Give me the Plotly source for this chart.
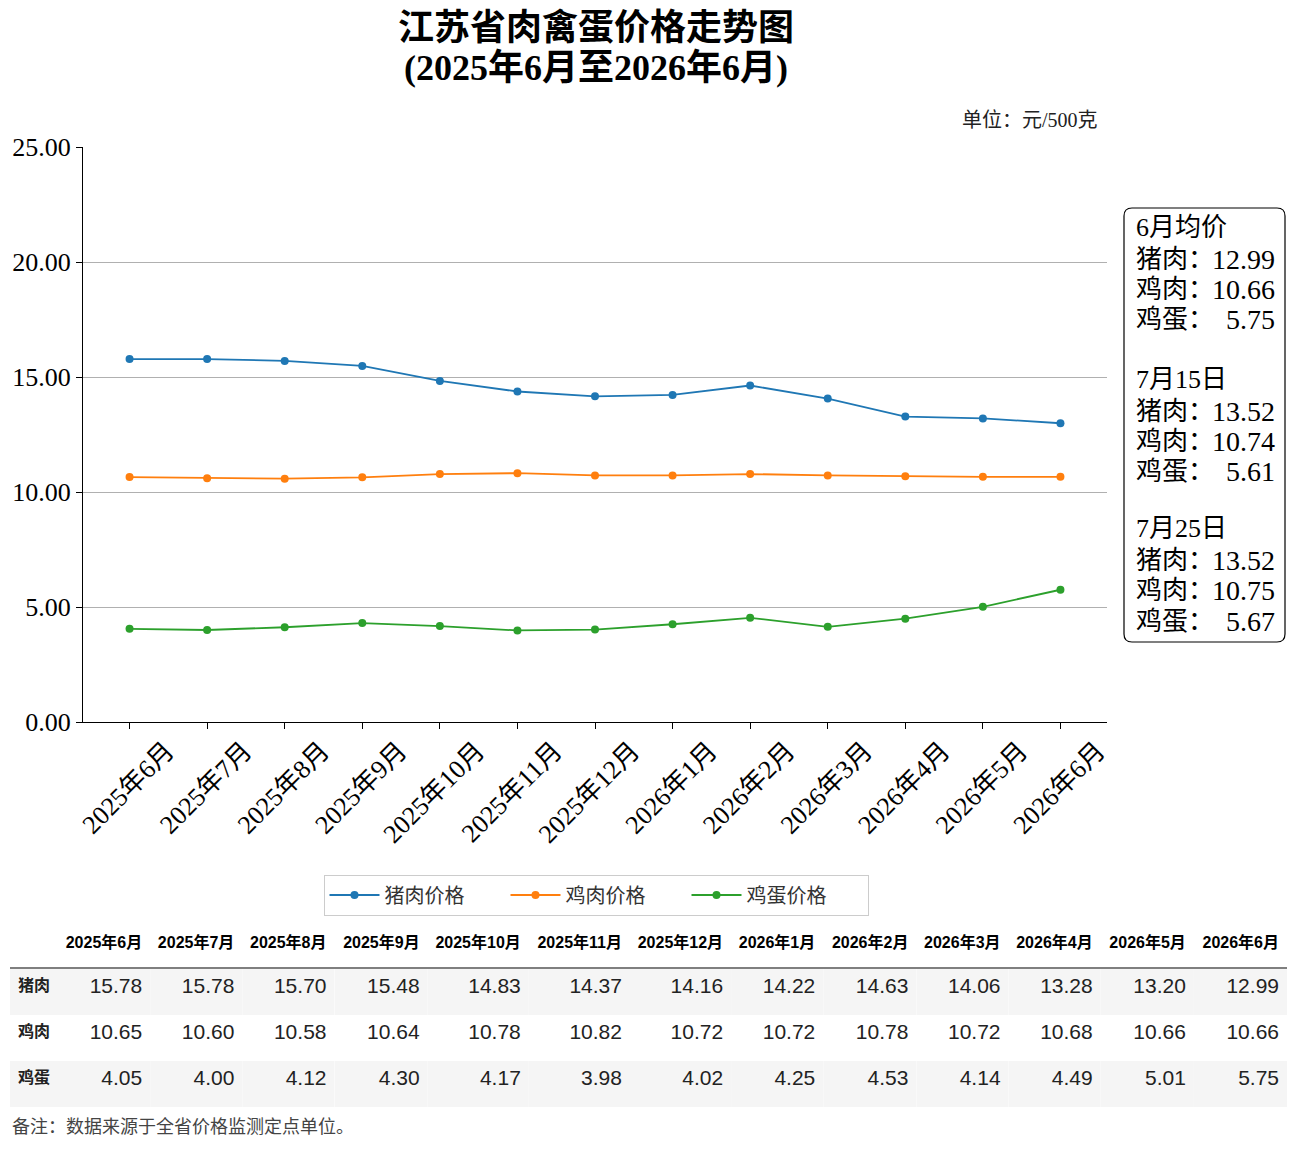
import plotly.graph_objects as go

# the page body adds an 8px margin, so the figure is shrunk and all
# reference pixel positions are shifted by that offset
OFF = 8
W, H = 1295 - OFF, 1155 - 2 * OFF

months = ["2025年6月", "2025年7月", "2025年8月", "2025年9月", "2025年10月", "2025年11月",
          "2025年12月", "2026年1月", "2026年2月", "2026年3月", "2026年4月", "2026年5月", "2026年6月"]
pork = [15.78, 15.78, 15.70, 15.48, 14.83, 14.37, 14.16, 14.22, 14.63, 14.06, 13.28, 13.20, 12.99]
chicken = [10.65, 10.60, 10.58, 10.64, 10.78, 10.82, 10.72, 10.72, 10.78, 10.72, 10.68, 10.66, 10.66]
egg = [4.05, 4.00, 4.12, 4.30, 4.17, 3.98, 4.02, 4.25, 4.53, 4.14, 4.49, 5.01, 5.75]

series_names = ["猪肉价格", "鸡肉价格", "鸡蛋价格"]
row_names = ["猪肉", "鸡肉", "鸡蛋"]
colors = ["#1f77b4", "#ff7f0e", "#2ca02c"]

# side box: recent prices
box_titles = ["6月均价", "7月15日", "7月25日"]
box_pork = [12.99, 13.52, 13.52]
box_chicken = [10.66, 10.74, 10.75]
box_egg = [5.75, 5.61, 5.67]

SERIF = "Liberation Serif, Times New Roman, Noto Sans CJK SC, serif"
SANS = "Liberation Sans, Arial, Noto Sans CJK SC, sans-serif"
CJK = "Noto Sans CJK SC, sans-serif"


def px_x(p):
    return (p - OFF) / W


def px_y(p):
    return 1 - (p - OFF) / H


fig = go.Figure()

for name, vals, c in zip(series_names, [pork, chicken, egg], colors):
    fig.add_trace(go.Scatter(
        x=months, y=vals, name=name, mode="lines+markers",
        line=dict(color=c, width=1.8), marker=dict(color=c, size=8),
        xaxis="x", yaxis="y",
    ))

# data table under the chart
cols = [[f"<b>{r}</b>" for r in row_names]]
for i in range(len(months)):
    cols.append([f"{pork[i]:.2f}", f"{chicken[i]:.2f}", f"{egg[i]:.2f}"])
row_fill = ["#f5f5f5", "white", "#f5f5f5"]
fig.add_trace(go.Table(
    domain=dict(x=[px_x(10), px_x(1287)], y=[px_y(1112), px_y(925)]),
    columnwidth=[47, 93, 92, 92, 93, 101, 101, 101, 92, 93, 92, 92, 93, 93],
    header=dict(
        values=[""] + [f"<b>{m}</b>" for m in months],
        fill_color="white", line=dict(width=0, color="white"),
        align=["left"] + ["right"] * len(months),
        font=dict(family=SANS, size=16, color="black"), height=44,
    ),
    cells=dict(
        values=cols,
        fill_color=[row_fill] * (len(months) + 1),
        line=dict(width=0, color="white"),
        align=["left"] + ["right"] * len(months),
        font=dict(family=SANS, size=[16] + [21] * len(months), color="#222"),
        height=46,
    ),
))

shapes = [
    # line under table header
    dict(type="line", xref="paper", yref="paper", x0=px_x(10), x1=px_x(1287),
         y0=px_y(968), y1=px_y(968), line=dict(color="black", width=1.2)),
]

# rounded box on the right
x0, x1, y0, y1 = px_x(1124), px_x(1285), px_y(642), px_y(208)
rx, ry = 8 / W, 8 / H
path = (f"M {x0 + rx},{y1} L {x1 - rx},{y1} Q {x1},{y1} {x1},{y1 - ry} "
        f"L {x1},{y0 + ry} Q {x1},{y0} {x1 - rx},{y0} L {x0 + rx},{y0} "
        f"Q {x0},{y0} {x0},{y0 + ry} L {x0},{y1 - ry} Q {x0},{y1} {x0 + rx},{y1} Z")
shapes.append(dict(type="path", xref="paper", yref="paper", path=path,
                   line=dict(color="black", width=1.2), fillcolor="white"))

annotations = [
    dict(text="<b>(2025年6月至2026年6月)</b>", xref="paper", yref="paper",
         x=px_x(596), y=px_y(68), xanchor="center", yanchor="middle", showarrow=False,
         font=dict(family=SERIF, size=36, color="black")),
    dict(text="单位：元/500克", xref="paper", yref="paper", x=px_x(1100), y=px_y(120),
         xanchor="right", yanchor="middle", showarrow=False,
         font=dict(family=SERIF, size=20, color="#222")),
    dict(text="备注：数据来源于全省价格监测定点单位。", xref="paper", yref="paper",
         x=px_x(10), y=px_y(1125), xanchor="left", yanchor="middle", showarrow=False,
         font=dict(family=CJK, size=18, color="#444")),
]

block_tops = [228, 380, 529]
for title, p, c, e, top in zip(box_titles, box_pork, box_chicken, box_egg, block_tops):
    annotations.append(dict(text=title, xref="paper", yref="paper", x=px_x(1134), y=px_y(top),
                            xanchor="left", yanchor="middle", showarrow=False,
                            font=dict(family=SERIF, size=26, color="black")))
    for k, (lab, v) in enumerate(zip(row_names, [p, c, e])):
        yy = px_y(top + 31 * (k + 1) - (1 if k else 0))
        annotations.append(dict(text=lab + "：", xref="paper", yref="paper", x=px_x(1134), y=yy,
                                xanchor="left", yanchor="middle", showarrow=False,
                                font=dict(family=SERIF, size=26, color="black")))
        annotations.append(dict(text=f"{v:.2f}", xref="paper", yref="paper", x=px_x(1277), y=yy,
                                xanchor="right", yanchor="middle", showarrow=False,
                                font=dict(family=SERIF, size=28, color="black")))

fig.update_layout(
    width=W, height=H,
    margin=dict(l=0, r=0, t=0, b=0),
    paper_bgcolor="white", plot_bgcolor="white",
    title=dict(text="<b>江苏省肉禽蛋价格走势图</b>",
               x=px_x(596), y=px_y(27), xanchor="center", yanchor="middle",
               font=dict(family=SERIF, size=36, color="black")),
    xaxis=dict(domain=[px_x(83), px_x(1107)], range=[-0.6, 12.6], type="category",
               automargin=False,
               showline=True, linecolor="black", linewidth=1.2, ticks="outside",
               ticklen=6, tickcolor="black", tickangle=-45, showgrid=False,
               ticklabelshift=37, ticklabelstandoff=-4,
               tickfont=dict(family=SERIF, size=26, color="black")),
    yaxis=dict(domain=[px_y(722), px_y(147)], range=[0, 25], tick0=0, dtick=5,
               automargin=False,
               tickformat=".2f", showline=True, linecolor="black", linewidth=1.2,
               ticks="outside", ticklen=6, tickcolor="black", showgrid=True,
               gridcolor="#b0b0b0", gridwidth=1, zeroline=False,
               tickfont=dict(family=SERIF, size=26, color="black")),
    legend=dict(orientation="h", x=px_x(596), y=px_y(895), xanchor="center", yanchor="middle",
                bordercolor="#cccccc", borderwidth=1, bgcolor="white",
                itemwidth=50, entrywidth=116, font=dict(family=CJK, size=20, color="#333")),
    shapes=shapes,
    annotations=annotations,
)

fig.write_html("out.html")
